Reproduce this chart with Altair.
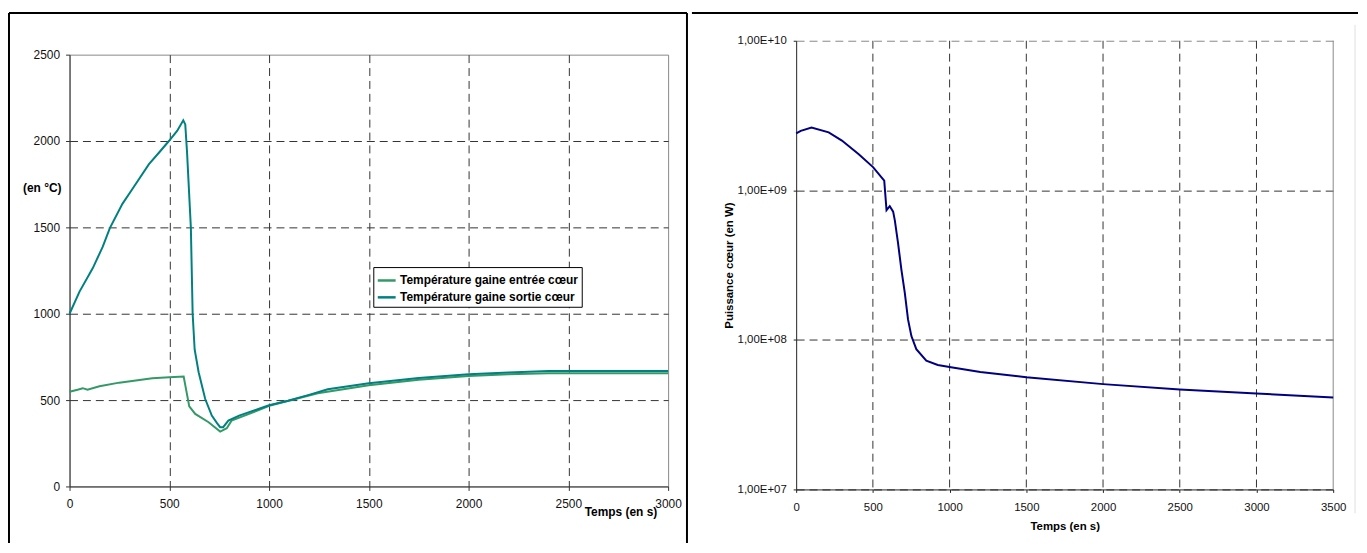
import altair as alt
import pandas as pd

# ---------------- data ----------------
t_sortie = [0, 50, 116, 166, 202, 265, 315, 398, 450, 498, 540, 570, 580, 589, 608, 617,
            627, 647, 680, 713, 740, 755, 770, 796, 850, 950, 1000, 1095, 1200, 1294,
            1500, 1750, 2000, 2200, 2400, 3000]
v_sortie = [1000, 1128, 1263, 1387, 1496, 1636, 1722, 1866, 1935, 2000, 2060, 2120, 2096,
            1933, 1500, 1000, 793, 661, 506, 410, 365, 343, 343, 381, 410, 450, 470, 496,
            530, 563, 598, 628, 649, 660, 669, 669]

t_entree = [0, 40, 66, 90, 150, 249, 415, 500, 572, 600, 630, 697, 755, 788, 812, 900, 1001,
            1244, 1500, 1750, 2000, 2200, 2400, 3000]
v_entree = [548, 560, 569, 560, 580, 601, 626, 632, 636, 464, 420, 372, 318, 337, 381, 420,
            467, 540, 586, 618, 640, 650, 655, 655]

t_power = [0, 30, 100, 212, 298, 406, 501, 574, 589, 610, 632, 643, 664, 686, 708, 729, 751,
           783, 848, 923, 1009, 1200, 1500, 2000, 2500, 3000, 3500]
p_power = [2.4e9, 2.5e9, 2.63e9, 2.44e9, 2.15e9, 1.75e9, 1.43e9, 1.16e9, 7.36e8, 7.83e8,
           7.2e8, 6.3e8, 4.43e8, 2.94e8, 2.06e8, 1.37e8, 1.06e8, 8.67e7, 7.25e7, 6.79e7,
           6.56e7, 6.1e7, 5.62e7, 5.06e7, 4.66e7, 4.38e7, 4.12e7]

LBL_IN = "Température gaine entrée cœur"
LBL_OUT = "Température gaine sortie cœur"

x_ticks_left = [0, 500, 1000, 1500, 2000, 2500, 3000]
y_ticks_left = [0, 500, 1000, 1500, 2000, 2500]
x_ticks_right = [0, 500, 1000, 1500, 2000, 2500, 3000, 3500]
y_ticks_right = [1e7, 1e8, 1e9, 1e10]

temp_df = pd.concat([
    pd.DataFrame({"t": t_entree, "v": v_entree, "serie": LBL_IN}),
    pd.DataFrame({"t": t_sortie, "v": v_sortie, "serie": LBL_OUT}),
], ignore_index=True)
power_df = pd.DataFrame({"t": t_power, "p": p_power})
vgrid_right = pd.DataFrame({"t": x_ticks_right[1:-1]})
one = pd.DataFrame({"a": [0]})

FONT = "Liberation Sans"
W1, H1 = 603, 435
W2, H2 = 541, 438          # right view: same top as the left one, scale range reaches above it
GRID = "#333"

# ---------------- left chart ----------------
left_lines = alt.Chart(temp_df).mark_line(strokeWidth=2).encode(
    x=alt.X("t:Q", scale=alt.Scale(domain=[0, 3000], nice=False),
            axis=alt.Axis(values=x_ticks_left, format="d", title="Temps (en s)", titleX=555,
                          titleY=25, titleAlign="center", titleBaseline="middle",
                          titleFontSize=12, titleFontWeight="bold", labelFontSize=12,
                          labelFlush=False, labelPadding=8, tickSize=4, grid=True,
                          gridDash=[8, 5], gridColor=GRID,
                          gridOpacity={"condition": {"test": "datum.value <= 0 || datum.value >= 3000", "value": 0}, "value": 1},
                          domainColor="#333", tickColor="#333", labelColor="#111")),
    y=alt.Y("v:Q", scale=alt.Scale(domain=[0, 2500], nice=False),
            axis=alt.Axis(values=y_ticks_left, format="d", title="(en °C)", titleAngle=0,
                          titleX=-28, titleY=134, titleAlign="center",
                          titleBaseline="middle", titleFontSize=12, titleFontWeight="bold",
                          labelFontSize=12, labelPadding=6, tickSize=4, grid=True,
                          gridDash=[8, 5], gridColor=GRID,
                          gridOpacity={"condition": {"test": "datum.value <= 0 || datum.value >= 2500", "value": 0}, "value": 1},
                          domainColor="#333", tickColor="#333", labelColor="#111")),
    color=alt.Color("serie:N",
                    scale=alt.Scale(domain=[LBL_IN, LBL_OUT], range=["#339966", "#008080"]),
                    legend=alt.Legend(title=None, orient="none", legendX=306, legendY=214,
                                      direction="vertical", strokeColor="black",
                                      fillColor="white", padding=3, symbolType="stroke",
                                      symbolSize=324, symbolStrokeWidth=2.5, labelFont=FONT,
                                      labelFontSize=12, labelFontWeight="bold",
                                      labelColor="black", labelOffset=3, rowPadding=0,
                                      labelLimit=300)),
)

frame_style = dict(color="black", strokeWidth=2)
left_border = alt.Chart(one).mark_rule(**frame_style).encode(
    x=alt.value(-61), y=alt.value(-42), y2=alt.value(492))
top_left = alt.Chart(one).mark_rule(**frame_style).encode(
    x=alt.value(-61), x2=alt.value(622), y=alt.value(-42))
divider = alt.Chart(one).mark_rule(**frame_style).encode(
    x=alt.value(622), y=alt.value(-42), y2=alt.value(492))

left = alt.layer(left_lines, left_border, top_left, divider).properties(width=W1, height=H1)

# ---------------- right chart ----------------
right_scale_y = alt.Scale(type="log", domain=[1e7, 1e10], nice=False, range=[438, -14])

right_vgrid = alt.Chart(vgrid_right).mark_rule(strokeDash=[8, 5], color=GRID, strokeWidth=1).encode(
    x=alt.X("t:Q"), y=alt.datum(1e10), y2=alt.datum(1e7))
right_edge = alt.Chart(one).mark_rule(color="#888", strokeWidth=1).encode(
    x=alt.datum(3500), y=alt.datum(1e10), y2=alt.datum(1e7))

right_line = alt.Chart(power_df).mark_line(strokeWidth=2, color="#000080").encode(
    x=alt.X("t:Q", scale=alt.Scale(domain=[0, 3500], nice=False),
            axis=alt.Axis(values=x_ticks_right, format="d", title="Temps (en s)", titleY=37,
                          titleBaseline="middle", titleFontSize=11.5,
                          titleFontWeight="bold", labelFontSize=11.5, labelFlush=False,
                          labelPadding=9, tickSize=3, grid=False,
                          domainColor="#222", tickColor="#222", labelColor="#111")),
    y=alt.Y("p:Q", scale=right_scale_y,
            axis=alt.Axis(values=y_ticks_right, title="Puissance cœur (en W)", titleX=-67,
                          titleY=212, titleAlign="center", titleBaseline="middle",
                          titleFontSize=11.5, titleFontWeight="bold", labelFontSize=11.5,
                          labelPadding=7, tickSize=3, grid=True, gridDash=[8, 5],
                          gridColor={"condition": {"test": "datum.value >= 1e10", "value": "#888"}, "value": GRID},
                          labelExpr="'1,00E+' + (round(log(datum.value)/LN10) < 10 ? '0' : '') + round(log(datum.value)/LN10)",
                          domainColor="#222", tickColor="#222", labelColor="#111")),
)

top_right = alt.Chart(one).mark_rule(**frame_style).encode(
    x=alt.value(-105), x2=alt.value(566), y=alt.value(-42))
gray_edge = alt.Chart(one).mark_rule(color="#e0e0e0", strokeWidth=1).encode(
    x=alt.value(563), y=alt.value(-30), y2=alt.value(462))

right = alt.layer(right_vgrid, right_edge, right_line, top_right, gray_edge).properties(
    width=W2, height=H2, view=alt.ViewBackground(stroke=None))

chart = alt.concat(left, right, columns=2, spacing=2, align="none").properties(
    padding={"left": -1, "top": 1, "right": 0, "bottom": 0}
).configure(font=FONT).configure_view(stroke="#888", strokeWidth=1).configure_axis(
    labelFont=FONT, titleFont=FONT)

chart.save("out.html", embed_options={"renderer": "svg", "actions": False})
